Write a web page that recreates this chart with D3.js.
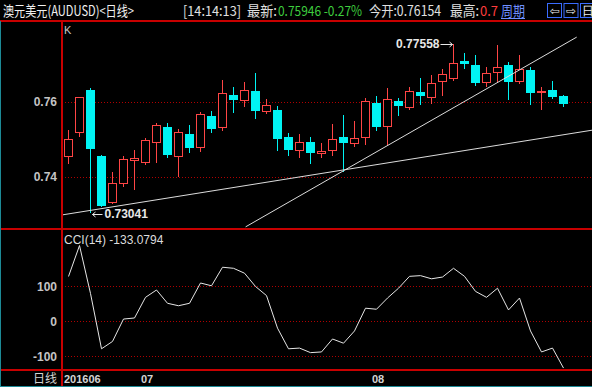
<!DOCTYPE html>
<html>
<head>
<meta charset="utf-8">
<script src="https://cdn.jsdelivr.net/npm/d3@7"></script>
<style>
  body { margin: 0; background: #000; }
  svg { display: block; }
</style>
</head>
<body>
<div id="chart"></div>
<script>
// daily candles, AUDUSD
var dates = ["2016-06-22","2016-06-23","2016-06-24","2016-06-27","2016-06-28","2016-06-29","2016-06-30",
  "2016-07-01","2016-07-04","2016-07-05","2016-07-06","2016-07-07","2016-07-08","2016-07-11","2016-07-12",
  "2016-07-13","2016-07-14","2016-07-15","2016-07-18","2016-07-19","2016-07-20","2016-07-21","2016-07-22",
  "2016-07-25","2016-07-26","2016-07-27","2016-07-28","2016-07-29","2016-08-01","2016-08-02","2016-08-03",
  "2016-08-04","2016-08-05","2016-08-08","2016-08-09","2016-08-10","2016-08-11","2016-08-12","2016-08-15",
  "2016-08-16","2016-08-17","2016-08-18","2016-08-19","2016-08-22","2016-08-23","2016-08-24"];

var opens  = [0.7453,0.7518,0.7632,0.7456,0.7331,0.7381,0.7442,0.7438,0.7490,0.7534,0.7454,0.7515,0.7478,0.7563,0.7530,0.7619,
              0.7603,0.7629,0.7574,0.7579,0.7506,0.7470,0.7493,0.7461,0.7469,0.7507,0.7487,0.7503,0.7598,0.7534,0.7603,0.7583,
              0.7627,0.7610,0.7654,0.7661,0.7709,0.7699,0.7650,0.7676,0.7699,0.7654,0.7685,0.7625,0.7632,0.76154];
var highs  = [0.7525,0.7614,0.7637,0.7458,0.7413,0.7456,0.7472,0.7503,0.7543,0.7543,0.7528,0.7539,0.7574,0.7576,0.7659,0.7641,
              0.7654,0.7678,0.7608,0.7589,0.7517,0.7515,0.7507,0.7491,0.7541,0.7565,0.7549,0.7610,0.7616,0.7637,0.7610,0.7641,
              0.7663,0.7672,0.7688,0.77558,0.7730,0.7725,0.7694,0.7752,0.7707,0.7725,0.7694,0.7641,0.7656,0.7619];
var lows   = [0.7435,0.7506,0.73041,0.7319,0.7327,0.7374,0.7365,0.7432,0.7437,0.7450,0.7401,0.7465,0.7467,0.7516,0.7523,0.7570,
              0.7586,0.7555,0.7568,0.7470,0.7457,0.7451,0.7435,0.7450,0.7457,0.7414,0.7481,0.7485,0.7523,0.7485,0.7563,0.7579,
              0.7592,0.7594,0.7616,0.7657,0.7687,0.7643,0.7641,0.7650,0.7605,0.7647,0.7592,0.7579,0.7607,0.7587];
var closes = [0.7501,0.7613,0.7474,0.7323,0.7383,0.7447,0.7450,0.7499,0.7539,0.7459,0.7519,0.7478,0.7567,0.7528,0.7623,0.7605,
              0.7632,0.7577,0.7592,0.7501,0.7472,0.7493,0.7463,0.7469,0.7501,0.7491,0.7503,0.7603,0.7534,0.7607,0.7588,0.7629,
              0.7617,0.7650,0.7675,0.7705,0.7700,0.7650,0.7676,0.7694,0.7654,0.7687,0.7625,0.7630,0.7613,0.75946];

var cci = [128.6,217,80,-78,-57,7,10,69,90,52,45,52,110,102,155,152,138,100,74,-19,-78,-76,-89,-87,-50,-62,-27,38,35,67,
           95,129,131,122,127,152,129,86,69,95,33,67,-27,-87,-76,-133.0794];

var priceTicks = [0.74, 0.76];
var cciTicks = [-100, 0, 100];
var monthTickIdx = [0, 7, 28];
var monthTickLabels = ["201606", "07", "08"];

// hand drawn trend lines, [candle index, price]
var trendA = [[-0.55, 0.7299], [47.64, 0.7525]];
var trendB = [[16.1, 0.7267], [46.2, 0.7773]];

var W = 592, H = 387;
var leftX = 62, topY = 21, splitY = 229, bottomY = 370;

var svg = d3.select("#chart").append("svg")
    .attr("width", W)
    .attr("height", H)
    .style("background", "#000");

var x = d3.scaleLinear().domain([-0.5, 45.5]).range([63, 569]);
var y = d3.scaleLinear().domain([0.72613, 0.7816]).range([splitY, topY]);
var yc = d3.scaleLinear().domain([-138.6, 261.4]).range([bottomY, 230]);

var px = v => Math.round(v) + 0.5;

var defs = svg.append("defs");
defs.append("clipPath").attr("id", "clipK")
  .append("rect").attr("x", leftX + 1).attr("y", topY + 1).attr("width", W - leftX).attr("height", splitY - topY - 2);
defs.append("clipPath").attr("id", "clipC")
  .append("rect").attr("x", leftX + 1).attr("y", splitY + 1).attr("width", W - leftX).attr("height", bottomY - splitY - 2);

// grid lines
svg.append("g").selectAll("line").data(priceTicks).join("line")
    .attr("x1", leftX).attr("x2", W)
    .attr("y1", d => px(y(d))).attr("y2", d => px(y(d)))
    .attr("stroke", "#b00000").attr("stroke-dasharray", "1,2");
svg.append("g").selectAll("line").data(cciTicks).join("line")
    .attr("x1", leftX).attr("x2", W)
    .attr("y1", d => px(yc(d))).attr("y2", d => px(yc(d)))
    .attr("stroke", "#b00000").attr("stroke-dasharray", "1,2");

// axis labels
svg.append("g").selectAll("text").data(priceTicks).join("text")
    .attr("x", 57).attr("y", d => y(d) + 4.5)
    .attr("text-anchor", "end")
    .style("font", "bold 12px 'Liberation Sans', Arial, sans-serif")
    .attr("fill", "#c4c4c4")
    .text(d => d.toFixed(2));
svg.append("g").selectAll("text").data(cciTicks).join("text")
    .attr("x", 57).attr("y", d => yc(d) + 4.5)
    .attr("text-anchor", "end")
    .style("font", "bold 12px 'Liberation Sans', Arial, sans-serif")
    .attr("fill", "#c4c4c4")
    .text(d => d);

// candles
var candles = svg.append("g").attr("clip-path", "url(#clipK)");
var red = "#ff4545", cyan = "#00f4f4";
dates.forEach(function(d, i) {
    var cx = x(i);
    var up = closes[i] >= opens[i];
    var yt = Math.round(y(Math.max(opens[i], closes[i])));
    var yb = Math.round(y(Math.min(opens[i], closes[i])));
    if (yb - yt < 2) yb = yt + 2;
    var yh = Math.round(y(highs[i])), yl = Math.round(y(lows[i]));
    if (up) {
        candles.append("line").attr("x1", cx).attr("x2", cx).attr("y1", yh).attr("y2", yt)
            .attr("stroke", red);
        candles.append("line").attr("x1", cx).attr("x2", cx).attr("y1", yb).attr("y2", yl)
            .attr("stroke", red);
        candles.append("rect")
            .attr("x", cx - 4).attr("y", yt + 0.5)
            .attr("width", 8).attr("height", yb - yt - 1)
            .attr("fill", "#000").attr("stroke", red);
    } else {
        candles.append("line").attr("x1", cx).attr("x2", cx).attr("y1", yh).attr("y2", yl)
            .attr("stroke", cyan);
        candles.append("rect")
            .attr("x", cx - 4.5).attr("y", yt)
            .attr("width", 9).attr("height", yb - yt)
            .attr("fill", cyan);
    }
});

// trend lines
var tline = d3.line().x(d => x(d[0])).y(d => y(d[1]));
candles.selectAll("path.trend").data([trendA, trendB]).join("path")
    .attr("class", "trend")
    .attr("d", tline)
    .attr("fill", "none")
    .attr("stroke", "#dcdcdc")
    .attr("stroke-width", 1);

// high / low markers
var hi = d3.maxIndex(highs), lo = d3.minIndex(lows);
var markFont = "bold 12px 'Liberation Sans', Arial, sans-serif";
var hx = x(hi) - 1, hy = y(highs[hi]);
svg.append("text").attr("x", hx - 13).attr("y", hy + 4.5)
    .attr("text-anchor", "end").style("font", markFont).attr("fill", "#e8e8e8")
    .text(highs[hi].toFixed(5));
svg.append("path")
    .attr("d", `M${hx - 12},${px(hy)}H${hx}M${hx - 3},${px(hy) - 2.5}L${hx},${px(hy)}L${hx - 3},${px(hy) + 2.5}`)
    .attr("fill", "none").attr("stroke", "#e8e8e8");
var lx = x(lo) + 2, ly = y(lows[lo]) + 1;
svg.append("path")
    .attr("d", `M${lx},${px(ly)}H${lx + 10}M${lx + 3},${px(ly) - 2.5}L${lx},${px(ly)}L${lx + 3},${px(ly) + 2.5}`)
    .attr("fill", "none").attr("stroke", "#e8e8e8");
svg.append("text").attr("x", lx + 12).attr("y", ly + 4.5)
    .style("font", markFont).attr("fill", "#e8e8e8")
    .text(lows[lo].toFixed(5));

svg.append("text").attr("x", 64).attr("y", 34)
    .style("font", "11px 'Liberation Sans', Arial, sans-serif").attr("fill", "#c8c8c8")
    .text("K");

// CCI panel
var cciLine = d3.line().x((d, i) => x(i)).y(d => yc(d));
svg.append("path").datum(cci)
    .attr("clip-path", "url(#clipC)")
    .attr("d", cciLine)
    .attr("fill", "none")
    .attr("stroke", "#e6e6e6")
    .attr("stroke-width", 1);

svg.append("text").attr("x", 64).attr("y", 244)
    .style("font", "12px 'Liberation Sans', Arial, sans-serif").attr("fill", "#dcdcdc")
    .text("CCI(14) " + cci[cci.length - 1].toFixed(4));

// date axis
svg.append("g").selectAll("text").data(monthTickIdx).join("text")
    .attr("x", d => x(d) - 4.5)
    .attr("y", 383)
    .style("font", "bold 11px 'Liberation Sans', Arial, sans-serif")
    .attr("fill", "#d4d4d4")
    .text((d, i) => monthTickLabels[i]);
svg.append("text").attr("x", 57).attr("y", 383).attr("text-anchor", "end")
    .style("font", "12px 'Noto Sans CJK SC', sans-serif").attr("fill", "#d4d4d4")
    .text("日线");

// frame
var frame = svg.append("g").attr("stroke", "#c80000").attr("stroke-width", 2);
[topY, splitY, bottomY].forEach(function(v) {
    frame.append("line").attr("x1", 0).attr("x2", W).attr("y1", v).attr("y2", v);
});
frame.append("line").attr("x1", leftX).attr("x2", leftX).attr("y1", topY).attr("y2", H);
svg.append("line").attr("x1", 0.5).attr("x2", 0.5).attr("y1", topY).attr("y2", H)
    .attr("stroke", "#1d8a96");
svg.append("line").attr("x1", 0).attr("x2", W).attr("y1", 386.5).attr("y2", 386.5)
    .attr("stroke", "#1d8a96");

// header
var head = svg.append("g").style("font", "14px 'Noto Sans CJK SC', sans-serif");
var headItems = [
    {t: "澳元美元(AUDUSD)<日线>", x: 3, w: 131, c: "#f0f0f0"},
    {t: "[14:14:13]", x: 183, w: 58, c: "#e0e0e0"},
    {t: "最新:", x: 247, w: 30, c: "#e0e0e0"},
    {t: "0.75946 -0.27%", x: 278, w: 84, c: "#3ecc3e"},
    {t: "今开:0.76154", x: 369, w: 72, c: "#e0e0e0"},
    {t: "最高:", x: 450, w: 29, c: "#e0e0e0"},
    {t: "0.7", x: 480, w: 18, c: "#ff3c3c"},
    {t: "周期", x: 501, w: 24, c: "#6f90ff"}
];
head.selectAll("text").data(headItems).join("text")
    .attr("x", d => d.x).attr("y", 16)
    .attr("textLength", d => d.w).attr("lengthAdjust", "spacingAndGlyphs")
    .attr("fill", d => d.c)
    .text(d => d.t);
svg.append("line").attr("x1", 501).attr("x2", 525).attr("y1", 18.5).attr("y2", 18.5)
    .attr("stroke", "#6f90ff");

var icons = ["⇦", "⇨", "日"];
icons.forEach(function(s, i) {
    var bx = 547.5 + i * 16.5;
    svg.append("rect").attr("x", bx).attr("y", 3.5).attr("width", 14).attr("height", 14)
        .attr("fill", "#000").attr("stroke", "#3a6cff");
    svg.append("text").attr("x", bx + 7).attr("y", 15).attr("text-anchor", "middle")
        .style("font", "12px 'DejaVu Sans', sans-serif").attr("fill", "#f0f0f0")
        .text(s);
});
</script>
</body>
</html>
